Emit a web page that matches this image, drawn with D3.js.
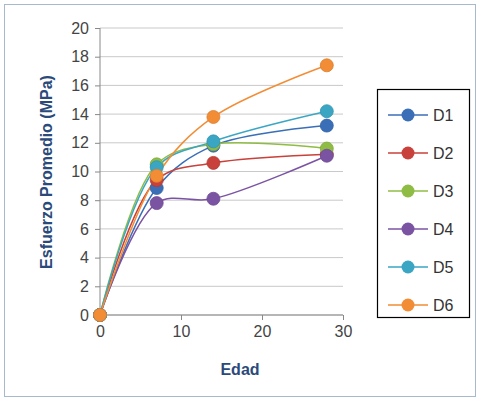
<!DOCTYPE html><html><head><script src="https://cdn.jsdelivr.net/npm/d3@7"></script>
<style>body{margin:0;background:#fff}</style></head><body><svg id="c" width="480" height="411"></svg>
<script>
const ages=[0,7,14,28];
const seriesNames=["D1","D2","D3","D4","D5","D6"];
const colors=["#3a6fb8","#c8413a","#8fbc45","#7b53a3","#3aa6c4","#f28d35"];
const D1=[0,8.85,11.8,13.2];
const D2=[0,9.4,10.6,11.2];
const D3=[0,10.5,11.9,11.6];
const D4=[0,7.8,8.1,11.1];
const D5=[0,10.3,12.1,14.2];
const D6=[0,9.7,13.8,17.4];
const yTicks=[0,2,4,6,8,10,12,14,16,18,20];
const xTicks=[0,10,20,30];
const all=[D1,D2,D3,D4,D5,D6];
const svg=d3.select("#c");
svg.append("rect").attr("x",4.5).attr("y",4.5).attr("width",471).attr("height",392).attr("fill","#fff").attr("stroke","#a9b9cc");
const x=d3.scaleLinear().domain([0,30]).range([100,343]);
const y=d3.scaleLinear().domain([0,20]).range([315,28]);
const g=svg.append("g");
g.selectAll(".gl").data(yTicks).join("line").attr("x1",100).attr("x2",343).attr("y1",d=>y(d)).attr("y2",d=>y(d)).attr("stroke","#c9c9c9");
g.append("line").attr("x1",100).attr("x2",100).attr("y1",28).attr("y2",315).attr("stroke","#888");
g.append("line").attr("x1",100).attr("x2",343).attr("y1",315).attr("y2",315).attr("stroke","#888");
const ya=svg.append("g").attr("transform","translate(100,0)").call(d3.axisLeft(y).tickValues(yTicks).tickSize(5).tickPadding(6));
const xa=svg.append("g").attr("transform","translate(0,315)").call(d3.axisBottom(x).tickValues(xTicks).tickSize(5).tickPadding(6));
[ya,xa].forEach(a=>{a.select(".domain").remove();a.selectAll("line").attr("stroke","#888");a.selectAll("text").attr("font-family","Liberation Sans, Arial").attr("font-size",16).attr("fill","#444");});
const line=d3.line().x((d,i)=>x(ages[i])).y(d=>y(d)).curve(d3.curveCatmullRom.alpha(0.5));
all.forEach((s,k)=>{
 svg.append("path").attr("d",line(s)).attr("fill","none").attr("stroke",colors[k]).attr("stroke-width",1.5);
});
all.forEach((s,k)=>{
 svg.selectAll(".p"+k).data(s).join("circle").attr("cx",(d,i)=>x(ages[i])).attr("cy",d=>y(d)).attr("r",6.5).attr("fill",colors[k]).attr("stroke",d3.color(colors[k]).darker(0.3)).attr("stroke-width",0.8);
});
svg.append("text").attr("x",240).attr("y",375).attr("text-anchor","middle").attr("font-family","Liberation Sans, Arial").attr("font-weight","bold").attr("font-size",16).attr("fill","#2b4a7a").text("Edad");
svg.append("text").attr("transform","translate(52,172) rotate(-90)").attr("text-anchor","middle").attr("font-family","Liberation Sans, Arial").attr("font-weight","bold").attr("font-size",16).attr("fill","#2b4a7a").text("Esfuerzo Promedio (MPa)");
const lg=svg.append("g");
lg.append("rect").attr("x",377.5).attr("y",89.5).attr("width",92).attr("height",228).attr("fill","#fff").attr("stroke","#000").attr("stroke-width",1.2);
seriesNames.forEach((n,k)=>{
 const yy=115+k*38;
 lg.append("line").attr("x1",388).attr("x2",428).attr("y1",yy).attr("y2",yy).attr("stroke",colors[k]).attr("stroke-width",1.5);
 lg.append("circle").attr("cx",408).attr("cy",yy).attr("r",6.5).attr("fill",colors[k]);
 lg.append("text").attr("x",433).attr("y",yy+6).attr("font-family","Liberation Sans, Arial").attr("font-size",16).attr("fill","#333").text(n);
});
</script></body></html>
